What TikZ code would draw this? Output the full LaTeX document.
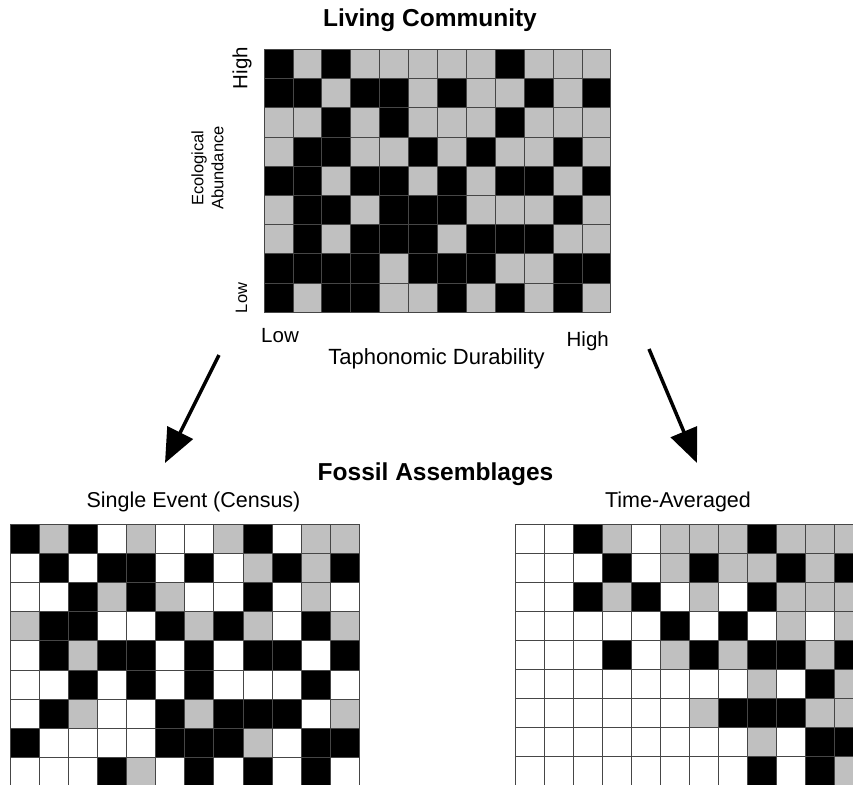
\documentclass[tikz,border=0pt]{standalone}
\usepackage{fontspec}
\setmainfont{Liberation Sans}
\usetikzlibrary{arrows.meta}
\definecolor{grayfill}{RGB}{192,192,192}
\definecolor{gridgray}{RGB}{70,70,70}
\tikzset{
  gridline/.style={draw=gridgray, line width=0.8pt},
  titletext/.style={font=\fontsize{24.5}{29}\selectfont\bfseries, inner sep=0pt},
  subtext/.style={font=\fontsize{21.5}{26}\selectfont, inner sep=0pt},
  axistext/.style={font=\fontsize{20.5}{24}\selectfont, inner sep=0pt},
  durtext/.style={font=\fontsize{22}{26}\selectfont, inner sep=0pt},
  smalltext/.style={font=\fontsize{16.5}{20}\selectfont, inner sep=0pt, align=center},
  bigarrow/.style={line width=3.5pt, -{Triangle[length=34pt,width=28pt]}},
}
\newcommand\fossilgrid[5]{%
\begin{scope}[shift={(#1,#2)}, x=#3pt, y=-#4pt]
\foreach \rowlist [count=\r from 0] in {#5} {
  \foreach \c [count=\k from 0] in \rowlist {
    \if\c B\fill[black] (\k,\r) rectangle ++(1,1);\fi
    \if\c G\fill[grayfill] (\k,\r) rectangle ++(1,1);\fi
  }
}
\foreach \i in {0,...,12} \draw[gridline] (\i,0) -- (\i,9);
\foreach \j in {0,...,9} \draw[gridline] (0,\j) -- (12,\j);
\end{scope}}
\begin{document}
\begin{tikzpicture}[x=1pt,y=-1pt]
\path[use as bounding box] (0,0) rectangle (853,784);
\clip (0,0) rectangle (853,784);
\fill[white] (0,0) rectangle (853,784);

% Living community
\fossilgrid{264}{49.3}{28.9}{29.2}{%
{B,G,B,G,G,G,G,G,B,G,G,G},
{B,B,G,B,B,G,B,G,G,B,G,B},
{G,G,B,G,B,G,G,G,B,G,G,G},
{G,B,B,G,G,B,G,B,G,G,B,G},
{B,B,G,B,B,G,B,G,B,B,G,B},
{G,B,B,G,B,B,B,G,G,G,B,G},
{G,B,G,B,B,B,G,B,B,B,G,G},
{B,B,B,B,G,B,B,B,G,G,B,B},
{B,G,B,B,G,G,B,G,B,G,B,G}}

% Census
\fossilgrid{10.3}{524.3}{29.08}{29.12}{%
{B,G,B,W,G,W,W,G,B,W,G,G},
{W,B,W,B,B,W,B,W,G,B,G,B},
{W,W,B,G,B,G,W,W,B,W,G,W},
{G,B,B,W,W,B,G,B,G,W,B,G},
{W,B,G,B,B,W,B,W,B,B,W,B},
{W,W,B,W,B,W,B,W,W,W,B,W},
{W,B,G,W,W,B,G,B,B,B,W,G},
{B,W,W,W,W,B,B,B,G,W,B,B},
{W,W,W,B,G,W,B,W,B,W,B,W}}

% Time-averaged
\fossilgrid{515}{524.3}{29.0}{29.04}{%
{W,W,B,G,W,G,G,G,B,G,G,G},
{W,W,W,B,W,G,B,G,G,B,G,B},
{W,W,B,G,B,W,G,W,B,G,G,G},
{W,W,W,W,W,B,W,B,W,G,W,G},
{W,W,W,B,W,G,B,G,B,B,G,B},
{W,W,W,W,W,W,W,W,G,W,B,G},
{W,W,W,W,W,W,G,B,B,B,G,G},
{W,W,W,W,W,W,W,W,G,W,B,B},
{W,W,W,W,W,W,W,W,B,W,B,G}}

% Labels
\node[titletext, anchor=base] (living) at (430,27) {Living Community};
\node[axistext, rotate=90] (yhigh) at (242,68) {High};
\node[smalltext, rotate=90] (ylow) at (241.5,298) {Low};
\node[smalltext, rotate=90] (ylabel) at (207.5,168) {Ecological\\Abundance};
\node[axistext, anchor=base west] (xlow) at (261,342.5) {Low};
\node[axistext, anchor=base east] (xhigh) at (609,346) {High};
\node[durtext, anchor=base] (xlabel) at (436.5,364) {Taphonomic Durability};
\node[titletext, anchor=base] (fossil) at (435.5,480) {Fossil Assemblages};
\node[subtext, anchor=base] (census) at (193.5,507) {Single Event (Census)};
\node[subtext, anchor=base] (timeavg) at (678,507) {Time-Averaged};

% Arrows
\coordinate (la) at (219,355);
\coordinate (lb) at (165,463);
\coordinate (ra) at (649,349);
\coordinate (rb) at (697,463);
\draw[bigarrow] (la) -- (lb);
\draw[bigarrow] (ra) -- (rb);
\end{tikzpicture}
\end{document}
